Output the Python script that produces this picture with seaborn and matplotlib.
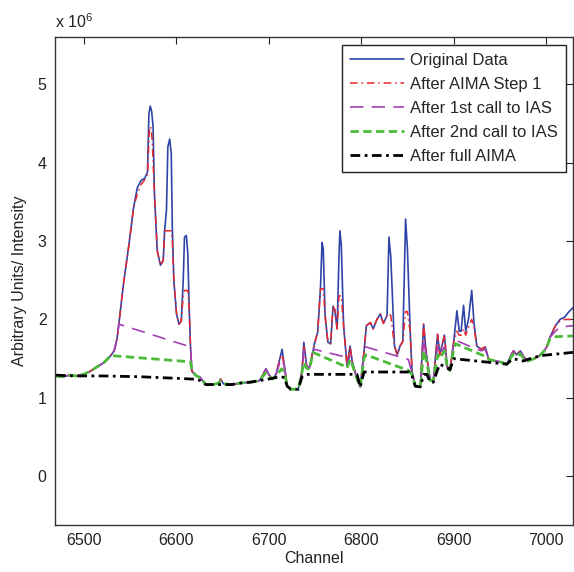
import numpy as np
import pandas as pd
import matplotlib
matplotlib.use("Agg")
import matplotlib.pyplot as plt
import seaborn as sns

# ---------------- data (intensity in units of 10^6) ----------------
orig_ch = [6470, 6478, 6485, 6492, 6500, 6507, 6515, 6522, 6528, 6533, 6536, 6538, 6543, 6549, 6554,
           6558, 6562, 6566, 6569, 6570.5, 6572, 6573.5, 6575, 6576.5, 6579.5, 6583, 6586, 6587.5,
           6589.5, 6591, 6593, 6594.7, 6595.8, 6597.5, 6600.4, 6603, 6605.5, 6607.6, 6609, 6611,
           6612.6, 6614, 6615.5, 6617, 6622, 6626, 6632, 6640, 6646, 6648, 6651, 6660, 6670, 6680,
           6690, 6694, 6697, 6700, 6704, 6708, 6712, 6714.5, 6717, 6720, 6724, 6732, 6736, 6738,
           6741, 6744, 6747, 6749.5, 6753, 6756, 6757.7, 6759, 6761, 6764, 6767, 6769.6, 6771.5,
           6774, 6776, 6777, 6778.5, 6781, 6784.7, 6788, 6790.5, 6795.5, 6799, 6803, 6805.6, 6810,
           6813, 6817, 6820.7, 6824, 6828, 6830, 6832, 6836, 6839, 6842, 6845, 6848, 6850, 6853,
           6855, 6858.5, 6864, 6867.5, 6870, 6874.7, 6878, 6882.6, 6885, 6890, 6893, 6896, 6900,
           6903.5, 6906, 6908, 6910.7, 6913, 6916, 6919.5, 6922, 6925, 6930, 6934, 6938, 6945,
           6950, 6957.5, 6961, 6964.7, 6968, 6972, 6976, 6980, 6987, 6993, 6998, 7001, 7004, 7010,
           7015, 7020, 7024, 7029]
orig_val = [1.28, 1.27, 1.29, 1.28, 1.30, 1.34, 1.40, 1.45, 1.52, 1.60, 1.75, 1.94, 2.45, 2.96, 3.43,
            3.68, 3.77, 3.80, 3.88, 4.62, 4.72, 4.65, 4.46, 3.60, 2.88, 2.69, 2.75, 3.13,
            3.39, 4.20, 4.30, 4.11, 3.18, 2.49, 2.07, 1.94, 1.98, 2.49, 3.05, 3.07,
            2.84, 2.16, 1.65, 1.34, 1.28, 1.26, 1.17, 1.17, 1.19, 1.24, 1.18, 1.17, 1.19, 1.20,
            1.22, 1.30, 1.37, 1.30, 1.24, 1.30, 1.50, 1.62, 1.40, 1.15, 1.11, 1.11, 1.33, 1.71,
            1.41, 1.38, 1.55, 1.69, 1.84, 2.40, 2.98, 2.90, 2.05, 1.71, 1.69, 2.17, 2.12,
            1.88, 2.80, 3.13, 2.95, 1.92, 1.41, 1.66, 1.45, 1.24, 1.14, 1.58, 1.92, 1.96,
            1.88, 2.00, 2.07, 1.95, 2.05, 3.05, 2.80, 1.66, 1.55, 1.66, 1.72, 3.28, 2.90, 1.84,
            1.33, 1.15, 1.14, 1.94, 1.60, 1.22, 1.22, 1.81, 1.55, 1.80, 1.40, 1.35, 1.71,
            2.11, 1.85, 1.85, 2.18, 1.85, 2.00, 2.37, 1.95, 1.66, 1.62, 1.65, 1.49, 1.47,
            1.46, 1.43, 1.52, 1.60, 1.55, 1.60, 1.52, 1.47, 1.50, 1.54, 1.60, 1.66, 1.77, 1.92,
            2.00, 2.03, 2.09, 2.15]

step1_ch = [6470, 6478, 6485, 6492, 6500, 6507, 6515, 6522, 6528, 6533, 6536, 6538, 6543, 6549, 6554,
            6558, 6562, 6566, 6569, 6571, 6572.5, 6574, 6576.5, 6579.5, 6583, 6586, 6587.5, 6594.7,
            6595.8, 6597.5, 6600.4, 6603, 6605.5, 6607.6, 6609, 6612.6, 6614, 6615.5, 6617, 6622,
            6626, 6632, 6640, 6646, 6648, 6651, 6660, 6670, 6680, 6690, 6694, 6697, 6700, 6704,
            6708, 6712, 6714.5, 6717, 6720, 6724, 6732, 6736, 6738, 6741, 6744, 6747, 6749.5, 6753,
            6756, 6759, 6761, 6764, 6767, 6769.6, 6771.5, 6774, 6776, 6778.5, 6781, 6784.7, 6788,
            6790.5, 6795.5, 6799, 6803, 6805.6, 6810, 6813, 6817, 6820.7, 6824, 6828, 6830, 6832,
            6836, 6839, 6842, 6845, 6848, 6850, 6853, 6855, 6858.5, 6864, 6867.5, 6870, 6874.7,
            6878, 6882.6, 6885, 6890, 6893, 6896, 6900, 6903.5, 6906, 6908, 6910.7, 6913, 6916,
            6919.5, 6922, 6925, 6930, 6934, 6938, 6945, 6950, 6957.5, 6961, 6964.7, 6968, 6972,
            6976, 6980, 6987, 6993, 6998, 7001, 7004, 7010, 7015, 7020, 7024, 7029]
step1_val = [1.28, 1.27, 1.29, 1.28, 1.30, 1.34, 1.40, 1.45, 1.52, 1.60, 1.75, 1.94, 2.45, 2.96, 3.43,
             3.60, 3.72, 3.78, 3.85, 4.40, 4.46, 4.30, 3.60, 2.88, 2.69, 2.75, 3.13, 3.13,
             3.00, 2.49, 2.07, 1.94, 1.98, 2.30, 2.37, 2.37, 2.16, 1.65, 1.34, 1.28,
             1.26, 1.17, 1.17, 1.19, 1.24, 1.18, 1.17, 1.19, 1.20, 1.22, 1.30, 1.37, 1.30, 1.24,
             1.30, 1.50, 1.55, 1.40, 1.15, 1.11, 1.11, 1.33, 1.65, 1.41, 1.38, 1.55, 1.69, 1.84,
             2.39, 2.39, 2.05, 1.71, 1.69, 2.17, 2.12, 1.88, 2.30, 2.30, 1.92, 1.41, 1.66,
             1.45, 1.24, 1.14, 1.58, 1.92, 1.96, 1.88, 2.00, 2.07, 1.95, 2.05, 2.07, 2.05,
             1.66, 1.55, 1.66, 1.72, 2.10, 2.10, 1.84, 1.33, 1.15, 1.14, 1.94, 1.60, 1.22,
             1.22, 1.81, 1.55, 1.80, 1.40, 1.35, 1.71, 1.85, 1.80, 1.80, 1.88, 1.80, 1.90,
             2.00, 1.90, 1.66, 1.62, 1.65, 1.49, 1.47, 1.46, 1.43, 1.52, 1.60, 1.55, 1.60,
             1.52, 1.47, 1.50, 1.54, 1.60, 1.66, 1.77, 1.92, 1.98, 2.00, 2.00, 2.00]

ias1_ch = [6470, 6478, 6485, 6492, 6500, 6507, 6515, 6522, 6528, 6533, 6536, 6538, 6615.5, 6617, 6622,
           6626, 6632, 6640, 6646, 6648, 6651, 6660, 6670, 6680, 6690, 6694, 6697, 6700, 6704, 6708,
           6712, 6714.5, 6717, 6720, 6724, 6732, 6736, 6738, 6741, 6744, 6747, 6749, 6780, 6784.7,
           6788, 6790.5, 6795.5, 6799, 6803, 6805, 6851, 6853, 6855, 6858.5, 6864, 6867.5, 6870,
           6874.7, 6878, 6882.6, 6885, 6890, 6893, 6896, 6900, 6901, 6925, 6930, 6934, 6938, 6945,
           6950, 6957.5, 6961, 6964.7, 6968, 6972, 6976, 6980, 6987, 6993, 6998, 7001, 7004, 7010,
           7015, 7020, 7029]
ias1_val = [1.28, 1.27, 1.29, 1.28, 1.30, 1.34, 1.40, 1.45, 1.52, 1.60, 1.75, 1.94, 1.65, 1.34, 1.28,
            1.26, 1.17, 1.17, 1.19, 1.24, 1.18, 1.17, 1.19, 1.20, 1.22, 1.30, 1.37, 1.30, 1.24, 1.30,
            1.45, 1.50, 1.40, 1.15, 1.11, 1.11, 1.33, 1.60, 1.41, 1.38, 1.55, 1.62, 1.53, 1.41,
            1.55, 1.45, 1.24, 1.14, 1.58, 1.65, 1.49, 1.40, 1.33, 1.15, 1.14, 1.75, 1.55,
            1.22, 1.22, 1.65, 1.55, 1.65, 1.40, 1.35, 1.71, 1.74, 1.62, 1.60, 1.62, 1.49, 1.47,
            1.46, 1.43, 1.52, 1.60, 1.55, 1.60, 1.52, 1.47, 1.50, 1.54, 1.60, 1.66, 1.77, 1.85,
            1.90, 1.91, 1.92]

ias2_ch = [6470, 6478, 6485, 6492, 6500, 6507, 6515, 6522, 6529, 6615.5, 6617, 6622, 6626, 6632, 6640,
           6646, 6648, 6651, 6660, 6670, 6680, 6690, 6694, 6697, 6700, 6704, 6708, 6714, 6717, 6720,
           6724, 6732, 6736, 6738, 6741, 6744, 6748, 6783, 6784.7, 6788, 6790.5, 6795.5, 6799, 6803,
           6805, 6851, 6855, 6858.5, 6864, 6867.5, 6870, 6874.7, 6878, 6882.6, 6885, 6890, 6893,
           6896, 6900, 6902, 6936, 6938, 6945, 6950, 6957.5, 6961, 6964.7, 6968, 6972, 6976, 6980,
           6987, 6993, 6998, 7001, 7004, 7010, 7029]
ias2_val = [1.28, 1.27, 1.29, 1.28, 1.30, 1.34, 1.40, 1.45, 1.54, 1.46, 1.34, 1.28, 1.26, 1.17, 1.17,
            1.19, 1.22, 1.18, 1.17, 1.19, 1.20, 1.22, 1.28, 1.32, 1.28, 1.24, 1.28, 1.37, 1.33, 1.15,
            1.11, 1.11, 1.33, 1.45, 1.38, 1.36, 1.58, 1.40, 1.38, 1.49, 1.42, 1.24, 1.14, 1.50,
            1.55, 1.35, 1.30, 1.15, 1.14, 1.60, 1.50, 1.22, 1.22, 1.55, 1.50, 1.60, 1.40,
            1.35, 1.62, 1.69, 1.52, 1.49, 1.47, 1.46, 1.43, 1.50, 1.56, 1.53, 1.56, 1.50, 1.47,
            1.50, 1.54, 1.60, 1.66, 1.75, 1.78, 1.79]

full_ch = [6470, 6490, 6520, 6560, 6600, 6617, 6622, 6626, 6632, 6640, 6660, 6670, 6680, 6690, 6700,
           6712, 6717, 6720, 6724, 6732, 6736, 6740, 6795.5, 6799, 6803, 6852, 6855, 6858.5, 6864,
           6867.5, 6871, 6874.7, 6878, 6882.6, 6885, 6893, 6896, 6900, 6957.5, 6961, 6964.7, 6975,
           6985, 6995, 7029]
full_val = [1.29, 1.28, 1.28, 1.27, 1.25, 1.24, 1.24, 1.22, 1.17, 1.17, 1.17, 1.19, 1.20, 1.22, 1.24,
            1.27, 1.26, 1.15, 1.11, 1.11, 1.27, 1.30, 1.30, 1.14, 1.33, 1.33, 1.28, 1.15, 1.14,
            1.30, 1.30, 1.20, 1.20, 1.36, 1.43, 1.38, 1.36, 1.50, 1.43, 1.47, 1.50, 1.47,
            1.51, 1.54, 1.58]

series_labels = ["Original Data", "After AIMA Step 1", "After 1st call to IAS",
                 "After 2nd call to IAS", "After full AIMA"]
x_ticks = [6500, 6600, 6700, 6800, 6900, 7000]
y_ticks = [0, 1, 2, 3, 4, 5]

# ---------------- style ----------------
sns.set_theme(style="white")
plt.rcParams["font.family"] = ["Liberation Sans", "DejaVu Sans"]
plt.rcParams["mathtext.fontset"] = "custom"
plt.rcParams["mathtext.rm"] = "Liberation Sans"
plt.rcParams["mathtext.it"] = "Liberation Sans"

fig = plt.figure(figsize=(5.74, 5.72), dpi=100)
ax = fig.add_axes([55 / 574, 47 / 572, 518 / 574, 488 / 572])

styles = [
    (orig_ch, orig_val, "#2f44a8", "-", 1.2),
    (step1_ch, step1_val, "#e8262c", (0, (5, 2.5, 1, 2.5)), 1.1),
    (ias1_ch, ias1_val, "#a43fb5", (0, (8, 5)), 1.2),
    (ias2_ch, ias2_val, "#4cbb3a", (0, (3, 1.6)), 2.0),
    (full_ch, full_val, "#000000", (0, (3.5, 1.6, 1, 1.6)), 2.0),
]
for (xs, ys, col, ls, lw), lab in zip(styles, series_labels):
    df = pd.DataFrame({"Channel": xs, "Intensity": ys})
    sns.lineplot(data=df, x="Channel", y="Intensity", ax=ax, color=col, linestyle=ls,
                 linewidth=lw, label=lab, estimator=None, sort=False)

ax.set_xlim(6469, 7029)
ax.set_ylim(-0.62, 5.6)
ax.set_xticks(x_ticks)
ax.set_yticks(y_ticks)
ax.tick_params(direction="in", length=5, width=0.8, top=True, right=True,
               labelsize=11.5, colors="#222222", pad=6)
for s in ax.spines.values():
    s.set_visible(True)
    s.set_color("#333333")
    s.set_linewidth(1.0)

ax.set_xlabel("Channel", fontsize=11.5, color="#222222", labelpad=2)
ax.set_ylabel("Arbitrary Units/ Intensity", fontsize=11.5, color="#222222", labelpad=8)
ax.text(0.0, 1.012, r"x 10$^{6}$", transform=ax.transAxes, fontsize=11.5,
        color="#222222", ha="left", va="bottom")

leg = ax.legend(loc="upper right", bbox_to_anchor=(0.986, 0.984), borderaxespad=0,
                fontsize=12, handlelength=3.2, labelspacing=0.54, frameon=True,
                fancybox=False, framealpha=1, edgecolor="#222222", borderpad=0.5,
                handletextpad=0.35)
leg.get_frame().set_linewidth(1.0)

fig.savefig("out.png", dpi=100)
